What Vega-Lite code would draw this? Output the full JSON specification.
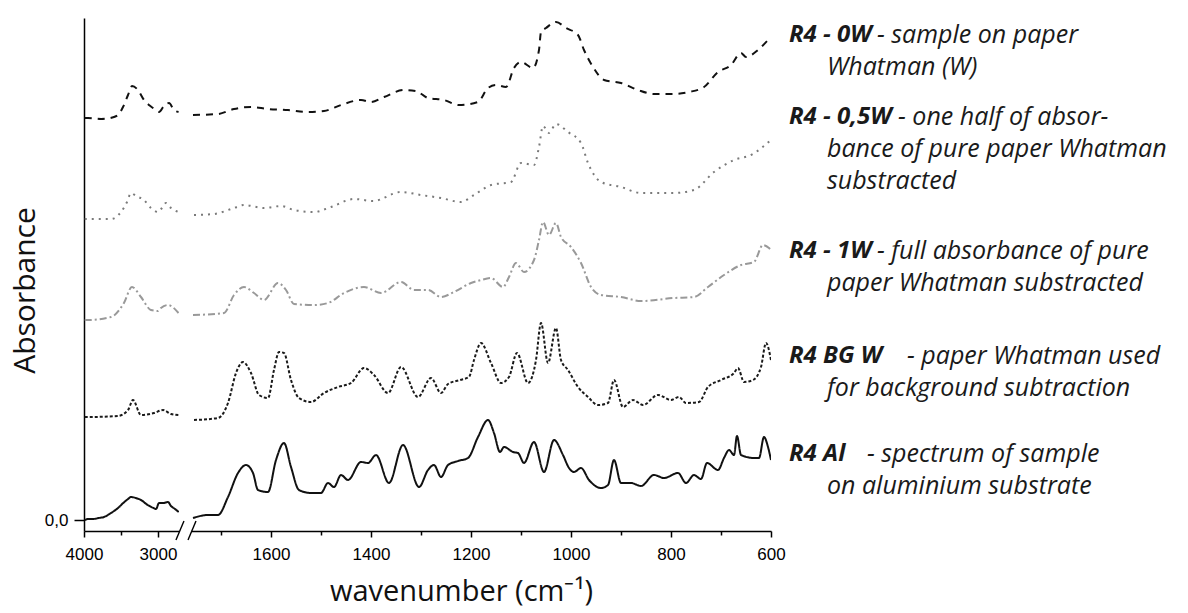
{
  "$schema": "https://vega.github.io/schema/vega-lite/v6.json",
  "background": "white",
  "padding": {"left": 10, "top": 18, "right": 0, "bottom": 0},
  "spacing": 12,
  "bounds": "flush",
  "config": {
    "view": {"stroke": null},
    "axis": {"grid": false, "domainColor": "#000", "tickColor": "#000", "labelColor": "#000", "titleColor": "#111", "labelFont": "Liberation Sans", "domainWidth": 1.5, "tickWidth": 1.5, "labelFlush": false}
  },
  "datasets": {
    "spec": [
      {"s":"R4 - 0W","w":3990,"a":4.02},{"s":"R4 - 0W","w":3946,"a":4.02},{"s":"R4 - 0W","w":3770,"a":4.01},{"s":"R4 - 0W","w":3595,"a":4.03},{"s":"R4 - 0W","w":3527,"a":4.06},{"s":"R4 - 0W","w":3473,"a":4.13},{"s":"R4 - 0W","w":3405,"a":4.25},{"s":"R4 - 0W","w":3351,"a":4.34},{"s":"R4 - 0W","w":3270,"a":4.30},{"s":"R4 - 0W","w":3189,"a":4.20},{"s":"R4 - 0W","w":3122,"a":4.15},{"s":"R4 - 0W","w":3068,"a":4.12},{"s":"R4 - 0W","w":2986,"a":4.08},{"s":"R4 - 0W","w":2919,"a":4.14},{"s":"R4 - 0W","w":2851,"a":4.17},{"s":"R4 - 0W","w":2784,"a":4.10},{"s":"R4 - 0W","w":2722,"a":4.08},
      {"s":"R4 - 0W","w":1756,"a":4.05},{"s":"R4 - 0W","w":1706,"a":4.06},{"s":"R4 - 0W","w":1674,"a":4.11},{"s":"R4 - 0W","w":1640,"a":4.13},{"s":"R4 - 0W","w":1606,"a":4.11},{"s":"R4 - 0W","w":1566,"a":4.10},{"s":"R4 - 0W","w":1526,"a":4.08},{"s":"R4 - 0W","w":1494,"a":4.09},{"s":"R4 - 0W","w":1460,"a":4.15},{"s":"R4 - 0W","w":1420,"a":4.20},{"s":"R4 - 0W","w":1400,"a":4.18},{"s":"R4 - 0W","w":1374,"a":4.23},{"s":"R4 - 0W","w":1334,"a":4.30},{"s":"R4 - 0W","w":1310,"a":4.29},{"s":"R4 - 0W","w":1286,"a":4.22},{"s":"R4 - 0W","w":1254,"a":4.20},{"s":"R4 - 0W","w":1224,"a":4.15},{"s":"R4 - 0W","w":1186,"a":4.18},{"s":"R4 - 0W","w":1166,"a":4.32},{"s":"R4 - 0W","w":1150,"a":4.35},{"s":"R4 - 0W","w":1130,"a":4.33},{"s":"R4 - 0W","w":1114,"a":4.52},{"s":"R4 - 0W","w":1100,"a":4.58},{"s":"R4 - 0W","w":1076,"a":4.52},{"s":"R4 - 0W","w":1064,"a":4.70},{"s":"R4 - 0W","w":1060,"a":4.88},{"s":"R4 - 0W","w":1050,"a":4.92},{"s":"R4 - 0W","w":1030,"a":4.98},{"s":"R4 - 0W","w":1010,"a":4.92},{"s":"R4 - 0W","w":986,"a":4.85},{"s":"R4 - 0W","w":974,"a":4.70},{"s":"R4 - 0W","w":956,"a":4.53},{"s":"R4 - 0W","w":934,"a":4.40},{"s":"R4 - 0W","w":900,"a":4.37},{"s":"R4 - 0W","w":866,"a":4.30},{"s":"R4 - 0W","w":834,"a":4.26},{"s":"R4 - 0W","w":794,"a":4.26},{"s":"R4 - 0W","w":764,"a":4.28},{"s":"R4 - 0W","w":734,"a":4.33},{"s":"R4 - 0W","w":706,"a":4.48},{"s":"R4 - 0W","w":680,"a":4.55},{"s":"R4 - 0W","w":660,"a":4.67},{"s":"R4 - 0W","w":650,"a":4.63},{"s":"R4 - 0W","w":626,"a":4.70},{"s":"R4 - 0W","w":604,"a":4.81},{"s":"R4 - 0W","w":600,"a":4.83},

      {"s":"R4 - 0,5W","w":3990,"a":3.01},{"s":"R4 - 0,5W","w":3946,"a":3.01},{"s":"R4 - 0,5W","w":3635,"a":3.01},{"s":"R4 - 0,5W","w":3500,"a":3.08},{"s":"R4 - 0,5W","w":3419,"a":3.18},{"s":"R4 - 0,5W","w":3365,"a":3.27},{"s":"R4 - 0,5W","w":3297,"a":3.24},{"s":"R4 - 0,5W","w":3189,"a":3.20},{"s":"R4 - 0,5W","w":3095,"a":3.12},{"s":"R4 - 0,5W","w":3000,"a":3.08},{"s":"R4 - 0,5W","w":2946,"a":3.12},{"s":"R4 - 0,5W","w":2892,"a":3.17},{"s":"R4 - 0,5W","w":2824,"a":3.12},{"s":"R4 - 0,5W","w":2722,"a":3.08},
      {"s":"R4 - 0,5W","w":1754,"a":3.05},{"s":"R4 - 0,5W","w":1714,"a":3.06},{"s":"R4 - 0,5W","w":1674,"a":3.12},{"s":"R4 - 0,5W","w":1654,"a":3.15},{"s":"R4 - 0,5W","w":1614,"a":3.12},{"s":"R4 - 0,5W","w":1580,"a":3.14},{"s":"R4 - 0,5W","w":1554,"a":3.10},{"s":"R4 - 0,5W","w":1514,"a":3.08},{"s":"R4 - 0,5W","w":1480,"a":3.13},{"s":"R4 - 0,5W","w":1434,"a":3.21},{"s":"R4 - 0,5W","w":1396,"a":3.19},{"s":"R4 - 0,5W","w":1340,"a":3.28},{"s":"R4 - 0,5W","w":1300,"a":3.25},{"s":"R4 - 0,5W","w":1260,"a":3.22},{"s":"R4 - 0,5W","w":1220,"a":3.18},{"s":"R4 - 0,5W","w":1194,"a":3.25},{"s":"R4 - 0,5W","w":1160,"a":3.35},{"s":"R4 - 0,5W","w":1120,"a":3.38},{"s":"R4 - 0,5W","w":1100,"a":3.57},{"s":"R4 - 0,5W","w":1074,"a":3.55},{"s":"R4 - 0,5W","w":1064,"a":3.73},{"s":"R4 - 0,5W","w":1056,"a":3.94},{"s":"R4 - 0,5W","w":1044,"a":3.87},{"s":"R4 - 0,5W","w":1030,"a":3.96},{"s":"R4 - 0,5W","w":1006,"a":3.88},{"s":"R4 - 0,5W","w":980,"a":3.77},{"s":"R4 - 0,5W","w":966,"a":3.57},{"s":"R4 - 0,5W","w":940,"a":3.38},{"s":"R4 - 0,5W","w":900,"a":3.33},{"s":"R4 - 0,5W","w":860,"a":3.27},{"s":"R4 - 0,5W","w":794,"a":3.27},{"s":"R4 - 0,5W","w":754,"a":3.30},{"s":"R4 - 0,5W","w":714,"a":3.48},{"s":"R4 - 0,5W","w":674,"a":3.60},{"s":"R4 - 0,5W","w":640,"a":3.65},{"s":"R4 - 0,5W","w":600,"a":3.80},

      {"s":"R4 - 1W","w":3990,"a":2.00},{"s":"R4 - 1W","w":3946,"a":2.00},{"s":"R4 - 1W","w":3635,"a":2.03},{"s":"R4 - 1W","w":3460,"a":2.17},{"s":"R4 - 1W","w":3352,"a":2.33},{"s":"R4 - 1W","w":3230,"a":2.23},{"s":"R4 - 1W","w":3095,"a":2.10},{"s":"R4 - 1W","w":3000,"a":2.09},{"s":"R4 - 1W","w":2960,"a":2.12},{"s":"R4 - 1W","w":2865,"a":2.15},{"s":"R4 - 1W","w":2722,"a":2.07},
      {"s":"R4 - 1W","w":1756,"a":2.05},{"s":"R4 - 1W","w":1694,"a":2.07},{"s":"R4 - 1W","w":1674,"a":2.25},{"s":"R4 - 1W","w":1654,"a":2.33},{"s":"R4 - 1W","w":1634,"a":2.27},{"s":"R4 - 1W","w":1614,"a":2.20},{"s":"R4 - 1W","w":1586,"a":2.37},{"s":"R4 - 1W","w":1570,"a":2.30},{"s":"R4 - 1W","w":1554,"a":2.16},{"s":"R4 - 1W","w":1514,"a":2.15},{"s":"R4 - 1W","w":1486,"a":2.17},{"s":"R4 - 1W","w":1454,"a":2.27},{"s":"R4 - 1W","w":1414,"a":2.33},{"s":"R4 - 1W","w":1380,"a":2.27},{"s":"R4 - 1W","w":1340,"a":2.38},{"s":"R4 - 1W","w":1314,"a":2.30},{"s":"R4 - 1W","w":1286,"a":2.30},{"s":"R4 - 1W","w":1260,"a":2.23},{"s":"R4 - 1W","w":1234,"a":2.28},{"s":"R4 - 1W","w":1200,"a":2.37},{"s":"R4 - 1W","w":1180,"a":2.40},{"s":"R4 - 1W","w":1160,"a":2.42},{"s":"R4 - 1W","w":1136,"a":2.33},{"s":"R4 - 1W","w":1124,"a":2.43},{"s":"R4 - 1W","w":1110,"a":2.57},{"s":"R4 - 1W","w":1094,"a":2.48},{"s":"R4 - 1W","w":1074,"a":2.60},{"s":"R4 - 1W","w":1064,"a":2.80},{"s":"R4 - 1W","w":1056,"a":2.98},{"s":"R4 - 1W","w":1044,"a":2.85},{"s":"R4 - 1W","w":1030,"a":2.97},{"s":"R4 - 1W","w":1020,"a":2.83},{"s":"R4 - 1W","w":1000,"a":2.73},{"s":"R4 - 1W","w":980,"a":2.57},{"s":"R4 - 1W","w":960,"a":2.33},{"s":"R4 - 1W","w":940,"a":2.25},{"s":"R4 - 1W","w":900,"a":2.23},{"s":"R4 - 1W","w":860,"a":2.19},{"s":"R4 - 1W","w":794,"a":2.22},{"s":"R4 - 1W","w":754,"a":2.23},{"s":"R4 - 1W","w":726,"a":2.33},{"s":"R4 - 1W","w":694,"a":2.45},{"s":"R4 - 1W","w":660,"a":2.55},{"s":"R4 - 1W","w":634,"a":2.58},{"s":"R4 - 1W","w":616,"a":2.75},{"s":"R4 - 1W","w":604,"a":2.72},{"s":"R4 - 1W","w":600,"a":2.70},

      {"s":"R4 BG W","w":3990,"a":1.03},{"s":"R4 BG W","w":3946,"a":1.03},{"s":"R4 BG W","w":3540,"a":1.04},{"s":"R4 BG W","w":3405,"a":1.10},{"s":"R4 BG W","w":3338,"a":1.20},{"s":"R4 BG W","w":3230,"a":1.05},{"s":"R4 BG W","w":3054,"a":1.07},{"s":"R4 BG W","w":2932,"a":1.10},{"s":"R4 BG W","w":2824,"a":1.06},{"s":"R4 BG W","w":2722,"a":1.05},
      {"s":"R4 BG W","w":1754,"a":1.00},{"s":"R4 BG W","w":1706,"a":1.02},{"s":"R4 BG W","w":1686,"a":1.17},{"s":"R4 BG W","w":1670,"a":1.47},{"s":"R4 BG W","w":1656,"a":1.58},{"s":"R4 BG W","w":1640,"a":1.47},{"s":"R4 BG W","w":1624,"a":1.25},{"s":"R4 BG W","w":1606,"a":1.22},{"s":"R4 BG W","w":1594,"a":1.50},{"s":"R4 BG W","w":1584,"a":1.68},{"s":"R4 BG W","w":1574,"a":1.67},{"s":"R4 BG W","w":1560,"a":1.40},{"s":"R4 BG W","w":1544,"a":1.22},{"s":"R4 BG W","w":1520,"a":1.18},{"s":"R4 BG W","w":1494,"a":1.27},{"s":"R4 BG W","w":1466,"a":1.33},{"s":"R4 BG W","w":1440,"a":1.37},{"s":"R4 BG W","w":1414,"a":1.52},{"s":"R4 BG W","w":1394,"a":1.45},{"s":"R4 BG W","w":1366,"a":1.27},{"s":"R4 BG W","w":1340,"a":1.53},{"s":"R4 BG W","w":1306,"a":1.23},{"s":"R4 BG W","w":1280,"a":1.42},{"s":"R4 BG W","w":1260,"a":1.27},{"s":"R4 BG W","w":1246,"a":1.36},{"s":"R4 BG W","w":1222,"a":1.40},{"s":"R4 BG W","w":1204,"a":1.43},{"s":"R4 BG W","w":1194,"a":1.60},{"s":"R4 BG W","w":1180,"a":1.77},{"s":"R4 BG W","w":1160,"a":1.57},{"s":"R4 BG W","w":1140,"a":1.37},{"s":"R4 BG W","w":1124,"a":1.43},{"s":"R4 BG W","w":1108,"a":1.67},{"s":"R4 BG W","w":1086,"a":1.37},{"s":"R4 BG W","w":1070,"a":1.60},{"s":"R4 BG W","w":1060,"a":1.97},{"s":"R4 BG W","w":1046,"a":1.57},{"s":"R4 BG W","w":1030,"a":1.92},{"s":"R4 BG W","w":1020,"a":1.60},{"s":"R4 BG W","w":1006,"a":1.50},{"s":"R4 BG W","w":986,"a":1.33},{"s":"R4 BG W","w":966,"a":1.23},{"s":"R4 BG W","w":946,"a":1.15},{"s":"R4 BG W","w":926,"a":1.17},{"s":"R4 BG W","w":914,"a":1.40},{"s":"R4 BG W","w":896,"a":1.13},{"s":"R4 BG W","w":876,"a":1.20},{"s":"R4 BG W","w":856,"a":1.15},{"s":"R4 BG W","w":826,"a":1.25},{"s":"R4 BG W","w":800,"a":1.20},{"s":"R4 BG W","w":784,"a":1.23},{"s":"R4 BG W","w":770,"a":1.17},{"s":"R4 BG W","w":744,"a":1.18},{"s":"R4 BG W","w":726,"a":1.33},{"s":"R4 BG W","w":700,"a":1.40},{"s":"R4 BG W","w":674,"a":1.47},{"s":"R4 BG W","w":666,"a":1.52},{"s":"R4 BG W","w":654,"a":1.38},{"s":"R4 BG W","w":636,"a":1.40},{"s":"R4 BG W","w":620,"a":1.53},{"s":"R4 BG W","w":610,"a":1.77},{"s":"R4 BG W","w":600,"a":1.60},

      {"s":"R4 Al","w":3990,"a":0.00},{"s":"R4 Al","w":3946,"a":0.01},{"s":"R4 Al","w":3880,"a":0.01},{"s":"R4 Al","w":3800,"a":0.02},{"s":"R4 Al","w":3730,"a":0.03},{"s":"R4 Al","w":3635,"a":0.07},{"s":"R4 Al","w":3540,"a":0.12},{"s":"R4 Al","w":3470,"a":0.17},{"s":"R4 Al","w":3405,"a":0.21},{"s":"R4 Al","w":3365,"a":0.23},{"s":"R4 Al","w":3300,"a":0.22},{"s":"R4 Al","w":3230,"a":0.20},{"s":"R4 Al","w":3140,"a":0.15},{"s":"R4 Al","w":3060,"a":0.12},{"s":"R4 Al","w":3027,"a":0.11},{"s":"R4 Al","w":2986,"a":0.17},{"s":"R4 Al","w":2930,"a":0.17},{"s":"R4 Al","w":2865,"a":0.18},{"s":"R4 Al","w":2824,"a":0.14},{"s":"R4 Al","w":2770,"a":0.11},{"s":"R4 Al","w":2720,"a":0.08},
      {"s":"R4 Al","w":1756,"a":0.02},{"s":"R4 Al","w":1726,"a":0.05},{"s":"R4 Al","w":1706,"a":0.05},{"s":"R4 Al","w":1686,"a":0.23},{"s":"R4 Al","w":1666,"a":0.47},{"s":"R4 Al","w":1650,"a":0.55},{"s":"R4 Al","w":1636,"a":0.47},{"s":"R4 Al","w":1626,"a":0.30},{"s":"R4 Al","w":1606,"a":0.28},{"s":"R4 Al","w":1590,"a":0.60},{"s":"R4 Al","w":1574,"a":0.77},{"s":"R4 Al","w":1560,"a":0.53},{"s":"R4 Al","w":1544,"a":0.30},{"s":"R4 Al","w":1520,"a":0.27},{"s":"R4 Al","w":1500,"a":0.27},{"s":"R4 Al","w":1486,"a":0.37},{"s":"R4 Al","w":1474,"a":0.33},{"s":"R4 Al","w":1460,"a":0.45},{"s":"R4 Al","w":1446,"a":0.40},{"s":"R4 Al","w":1420,"a":0.58},{"s":"R4 Al","w":1406,"a":0.57},{"s":"R4 Al","w":1390,"a":0.65},{"s":"R4 Al","w":1364,"a":0.37},{"s":"R4 Al","w":1336,"a":0.75},{"s":"R4 Al","w":1304,"a":0.33},{"s":"R4 Al","w":1286,"a":0.50},{"s":"R4 Al","w":1274,"a":0.55},{"s":"R4 Al","w":1260,"a":0.43},{"s":"R4 Al","w":1246,"a":0.55},{"s":"R4 Al","w":1226,"a":0.59},{"s":"R4 Al","w":1206,"a":0.62},{"s":"R4 Al","w":1186,"a":0.83},{"s":"R4 Al","w":1166,"a":1.00},{"s":"R4 Al","w":1154,"a":0.87},{"s":"R4 Al","w":1142,"a":0.68},{"s":"R4 Al","w":1134,"a":0.73},{"s":"R4 Al","w":1116,"a":0.68},{"s":"R4 Al","w":1106,"a":0.67},{"s":"R4 Al","w":1094,"a":0.57},{"s":"R4 Al","w":1074,"a":0.78},{"s":"R4 Al","w":1054,"a":0.48},{"s":"R4 Al","w":1034,"a":0.80},{"s":"R4 Al","w":1016,"a":0.65},{"s":"R4 Al","w":1004,"a":0.52},{"s":"R4 Al","w":994,"a":0.48},{"s":"R4 Al","w":980,"a":0.52},{"s":"R4 Al","w":964,"a":0.40},{"s":"R4 Al","w":940,"a":0.32},{"s":"R4 Al","w":926,"a":0.35},{"s":"R4 Al","w":914,"a":0.60},{"s":"R4 Al","w":900,"a":0.37},{"s":"R4 Al","w":880,"a":0.37},{"s":"R4 Al","w":860,"a":0.34},{"s":"R4 Al","w":834,"a":0.45},{"s":"R4 Al","w":814,"a":0.42},{"s":"R4 Al","w":786,"a":0.47},{"s":"R4 Al","w":770,"a":0.37},{"s":"R4 Al","w":754,"a":0.45},{"s":"R4 Al","w":740,"a":0.41},{"s":"R4 Al","w":728,"a":0.57},{"s":"R4 Al","w":706,"a":0.50},{"s":"R4 Al","w":694,"a":0.62},{"s":"R4 Al","w":684,"a":0.70},{"s":"R4 Al","w":674,"a":0.65},{"s":"R4 Al","w":668,"a":0.84},{"s":"R4 Al","w":660,"a":0.65},{"s":"R4 Al","w":634,"a":0.62},{"s":"R4 Al","w":624,"a":0.62},{"s":"R4 Al","w":614,"a":0.83},{"s":"R4 Al","w":606,"a":0.73},{"s":"R4 Al","w":600,"a":0.60}
    ],
    "labels": [
      {"row":1,"kind":"head","t":"R4 - 0W","a":4.85},
      {"row":1,"kind":"rest","t":"- sample on paper","a":4.85},
      {"row":1,"kind":"cont","t":"Whatman (W)","a":4.53},
      {"row":2,"kind":"head","t":"R4 - 0,5W","a":4.03},
      {"row":2,"kind":"rest","t":"- one half of absor-","a":4.03},
      {"row":2,"kind":"cont","t":"bance of pure paper Whatman","a":3.71},
      {"row":2,"kind":"cont","t":"substracted","a":3.39},
      {"row":3,"kind":"head","t":"R4 - 1W","a":2.69},
      {"row":3,"kind":"rest","t":"- full absorbance of pure","a":2.69},
      {"row":3,"kind":"cont","t":"paper Whatman substracted","a":2.37},
      {"row":4,"kind":"head","t":"R4 BG W","a":1.64},
      {"row":4,"kind":"rest","t":"- paper Whatman used","a":1.64},
      {"row":4,"kind":"cont","t":"for background subtraction","a":1.32},
      {"row":5,"kind":"head","t":"R4 Al","a":0.66},
      {"row":5,"kind":"rest","t":"- spectrum of sample","a":0.66},
      {"row":5,"kind":"cont","t":"on aluminium substrate","a":0.34}
    ],
    "brkL": [{"x1":2757,"x2":2649,"y1":-0.20,"y2":-0.01}],
    "brkR": [{"x1":1766,"x2":1750,"y1":-0.20,"y2":-0.01}]
  },
  "hconcat": [
    {
      "width": 95,
      "height": 513,
      "layer": [
        {
          "data": {"name": "spec"},
          "transform": [{"filter": "datum.w > 2000"}],
          "mark": {"type": "line", "clip": true, "interpolate": "monotone"},
          "encoding": {
            "x": {"field": "w", "type": "quantitative",
              "scale": {"domain": [2716, 4000], "reverse": true, "nice": false, "zero": false},
              "axis": {"values": [4000, 3500, 3000], "format": "d", "labelExpr": "datum.value == 3500 ? '' : datum.label", "labelFontSize": 17, "labelPadding": 9, "tickSize": {"condition": {"test": "datum.value % 1000 === 0", "value": 6}, "value": 4}, "title": null}},
            "y": {"field": "a", "type": "quantitative",
              "scale": {"domain": [-0.11, 5.02], "nice": false, "zero": false},
              "axis": {"values": [0], "labelExpr": "'0,0'", "labelFontSize": 17, "labelPadding": 6, "tickSize": 10, "title": "Absorbance", "titleFont": "Open Sans", "titleFontSize": 30, "titleFontWeight": "normal", "titleAngle": -90, "titleX": -50, "titleY": 272, "titleAlign": "center", "titleBaseline": "alphabetic"}},
            "color": {"field": "s", "type": "nominal", "legend": null,
              "scale": {"domain": ["R4 - 0W", "R4 - 0,5W", "R4 - 1W", "R4 BG W", "R4 Al"], "range": ["#111111", "#7a7a7a", "#999999", "#1a1a1a", "#111111"]}},
            "strokeDash": {"field": "s", "type": "nominal", "legend": null,
              "scale": {"domain": ["R4 - 0W", "R4 - 0,5W", "R4 - 1W", "R4 BG W", "R4 Al"], "range": [[7, 6], [2, 5], [7, 3, 2, 3], [3, 2], [1, 0]]}},
            "strokeWidth": {"field": "s", "type": "nominal", "legend": null,
              "scale": {"domain": ["R4 - 0W", "R4 - 0,5W", "R4 - 1W", "R4 BG W", "R4 Al"], "range": [2, 2, 1.6, 2, 2]}}
          }
        },
        {
          "data": {"name": "brkL"},
          "mark": {"type": "rule", "clip": false, "color": "#000", "strokeWidth": 1.4},
          "encoding": {
            "x": {"field": "x1", "type": "quantitative"},
            "x2": {"field": "x2"},
            "y": {"field": "y1", "type": "quantitative"},
            "y2": {"field": "y2"}
          }
        }
      ]
    },
    {
      "width": 580,
      "height": 513,
      "layer": [
        {
          "data": {"name": "spec"},
          "transform": [{"filter": "datum.w < 2000"}],
          "mark": {"type": "line", "clip": true, "interpolate": "monotone"},
          "encoding": {
            "x": {"field": "w", "type": "quantitative",
              "scale": {"domain": [600, 1760], "reverse": true, "nice": false, "zero": false},
              "axis": {"values": [1700, 1600, 1500, 1400, 1300, 1200, 1100, 1000, 900, 800, 700, 600], "format": "d", "labelExpr": "datum.value % 200 === 0 ? datum.label : ''", "labelFontSize": 17, "labelPadding": 9, "tickSize": {"condition": {"test": "datum.value % 200 === 0", "value": 6}, "value": 4}, "title": "wavenumber (cm⁻¹)", "titleFont": "Open Sans", "titleFontSize": 29, "titleFontWeight": "normal", "titleX": 270, "titleY": 69, "titleAlign": "center", "titleBaseline": "alphabetic"}},
            "y": {"field": "a", "type": "quantitative",
              "scale": {"domain": [-0.11, 5.02], "nice": false, "zero": false}, "axis": null},
            "color": {"field": "s", "type": "nominal", "legend": null,
              "scale": {"domain": ["R4 - 0W", "R4 - 0,5W", "R4 - 1W", "R4 BG W", "R4 Al"], "range": ["#111111", "#7a7a7a", "#999999", "#1a1a1a", "#111111"]}},
            "strokeDash": {"field": "s", "type": "nominal", "legend": null,
              "scale": {"domain": ["R4 - 0W", "R4 - 0,5W", "R4 - 1W", "R4 BG W", "R4 Al"], "range": [[7, 6], [2, 5], [7, 3, 2, 3], [3, 2], [1, 0]]}},
            "strokeWidth": {"field": "s", "type": "nominal", "legend": null,
              "scale": {"domain": ["R4 - 0W", "R4 - 0,5W", "R4 - 1W", "R4 BG W", "R4 Al"], "range": [2, 2, 1.6, 2, 2]}}
          }
        },
        {
          "data": {"name": "brkR"},
          "mark": {"type": "rule", "clip": false, "color": "#000", "strokeWidth": 1.4},
          "encoding": {
            "x": {"field": "x1", "type": "quantitative"},
            "x2": {"field": "x2"},
            "y": {"field": "y1", "type": "quantitative"},
            "y2": {"field": "y2"}
          }
        },
        {
          "data": {"name": "labels"},
          "transform": [{"filter": "datum.kind == 'head'"}],
          "mark": {"type": "text", "align": "left", "baseline": "middle", "dx": 18, "font": "Open Sans", "fontSize": 24, "fontStyle": "italic", "fontWeight": "bold", "color": "#1a1a1a"},
          "encoding": {"x": {"datum": 600, "type": "quantitative"}, "y": {"field": "a", "type": "quantitative"}, "text": {"field": "t"}}
        },
        {
          "data": {"name": "labels"},
          "transform": [{"filter": "datum.kind == 'rest' && (datum.row == 1 || datum.row == 3)"}],
          "mark": {"type": "text", "align": "left", "baseline": "middle", "dx": 106, "font": "Open Sans", "fontSize": 25, "fontStyle": "italic", "color": "#1a1a1a"},
          "encoding": {"x": {"datum": 600, "type": "quantitative"}, "y": {"field": "a", "type": "quantitative"}, "text": {"field": "t"}}
        },
        {
          "data": {"name": "labels"},
          "transform": [{"filter": "datum.kind == 'rest' && datum.row == 5"}],
          "mark": {"type": "text", "align": "left", "baseline": "middle", "dx": 96, "font": "Open Sans", "fontSize": 25, "fontStyle": "italic", "color": "#1a1a1a"},
          "encoding": {"x": {"datum": 600, "type": "quantitative"}, "y": {"field": "a", "type": "quantitative"}, "text": {"field": "t"}}
        },
        {
          "data": {"name": "labels"},
          "transform": [{"filter": "datum.kind == 'rest' && datum.row == 2"}],
          "mark": {"type": "text", "align": "left", "baseline": "middle", "dx": 127, "font": "Open Sans", "fontSize": 25, "fontStyle": "italic", "color": "#1a1a1a"},
          "encoding": {"x": {"datum": 600, "type": "quantitative"}, "y": {"field": "a", "type": "quantitative"}, "text": {"field": "t"}}
        },
        {
          "data": {"name": "labels"},
          "transform": [{"filter": "datum.kind == 'rest' && datum.row == 4"}],
          "mark": {"type": "text", "align": "left", "baseline": "middle", "dx": 136, "font": "Open Sans", "fontSize": 25, "fontStyle": "italic", "color": "#1a1a1a"},
          "encoding": {"x": {"datum": 600, "type": "quantitative"}, "y": {"field": "a", "type": "quantitative"}, "text": {"field": "t"}}
        },
        {
          "data": {"name": "labels"},
          "transform": [{"filter": "datum.kind == 'cont'"}],
          "mark": {"type": "text", "align": "left", "baseline": "middle", "dx": 56, "font": "Open Sans", "fontSize": 25, "fontStyle": "italic", "color": "#1a1a1a"},
          "encoding": {"x": {"datum": 600, "type": "quantitative"}, "y": {"field": "a", "type": "quantitative"}, "text": {"field": "t"}}
        }
      ]
    }
  ]
}
